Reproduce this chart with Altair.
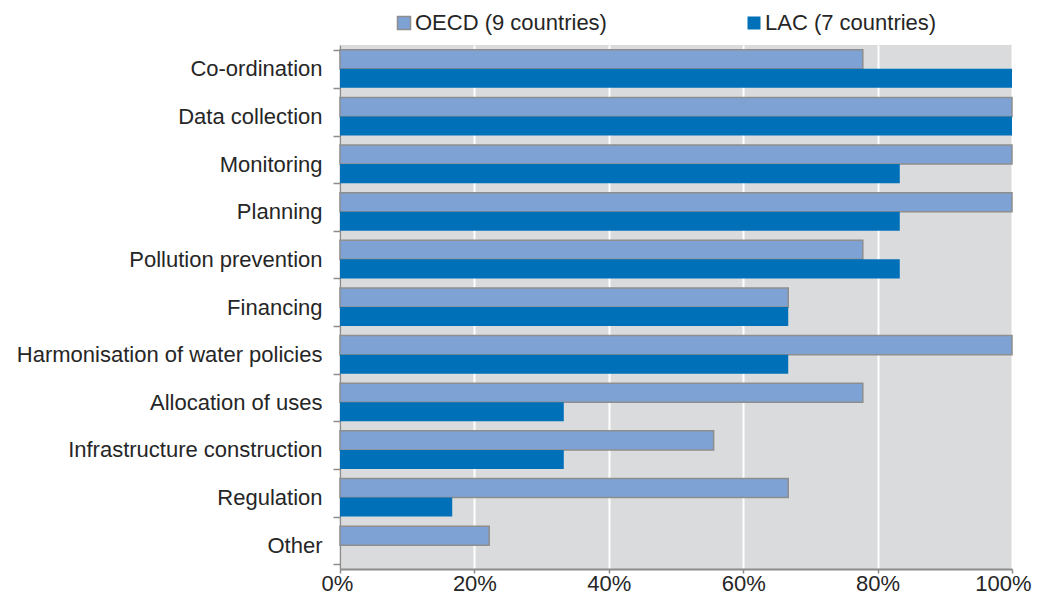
import altair as alt
import pandas as pd

categories = ["Co-ordination", "Data collection", "Monitoring", "Planning",
              "Pollution prevention", "Financing", "Harmonisation of water policies",
              "Allocation of uses", "Infrastructure construction", "Regulation", "Other"]
series = ["OECD (9 countries)", "LAC (7 countries)"]
oecd = [77.8, 100, 100, 100, 77.8, 66.7, 100, 77.8, 55.6, 66.7, 22.2]
lac = [100, 100, 83.3, 83.3, 83.3, 66.7, 66.7, 33.3, 33.3, 16.7, 0]
tick_values = [0, 0.2, 0.4, 0.6, 0.8, 1.0]

rows = []
for c, o, l in zip(categories, oecd, lac):
    rows.append({"category": c, "series": series[0], "value": o / 100})
    rows.append({"category": c, "series": series[1], "value": l / 100})
df = pd.DataFrame(rows)

FONT = "Liberation Sans"
TXT = "#262626"
AXC = "#8c8c8c"

chart = alt.Chart(df).mark_bar(strokeWidth=1.5).encode(
    y=alt.Y("category:N", sort=categories,
            scale=alt.Scale(paddingInner=0.2, paddingOuter=0.1),
            axis=alt.Axis(title=None, tickBand="extent", labelFontSize=22, labelFont=FONT,
                          labelColor=TXT, tickSize=7, tickColor=AXC, tickWidth=1.5,
                          domainColor=AXC, domainWidth=1.5, labelPadding=11,
                          labelLimit=400, grid=False)),
    yOffset=alt.YOffset("series:N", sort=series, scale=alt.Scale(domain=series, paddingInner=0, paddingOuter=0)),
    x=alt.X("value:Q", scale=alt.Scale(domain=[0, 1], nice=False),
            axis=alt.Axis(title=None, format="%", values=tick_values, labelFontSize=22,
                          labelFont=FONT, labelColor=TXT, tickSize=4, tickColor=AXC,
                          tickWidth=1.5, domainColor=AXC, domainWidth=2, labelPadding=0,
                          grid=True, gridColor="white", gridWidth=2,
                          labelFlush=True, labelFlushOffset=19)),
    color=alt.Color("series:N", sort=series,
                    scale=alt.Scale(domain=series, range=["#7ea2d4", "#0071b9"]),
                    title=None),
    stroke=alt.Stroke("series:N", sort=series,
                      scale=alt.Scale(domain=series, range=["#8e8e8e", "transparent"]),
                      title=None),
).properties(
    width=672, height=524,
    autosize=alt.AutoSizeParams(type="none"),
    padding={"left": 332, "top": 37, "right": 21, "bottom": 26},
).configure_view(
    fill="#dadbdc", stroke=None
).configure_legend(
    orient="none", legendX=53, legendY=-33, direction="horizontal",
    symbolType="square", symbolSize=169, symbolStrokeWidth=1.5,
    labelFontSize=22, labelFont=FONT, labelColor=TXT, labelOffset=0,
    columnPadding=136, labelLimit=400, title=None
)

chart.save("out.html", embed_options={"renderer": "svg", "actions": False})
